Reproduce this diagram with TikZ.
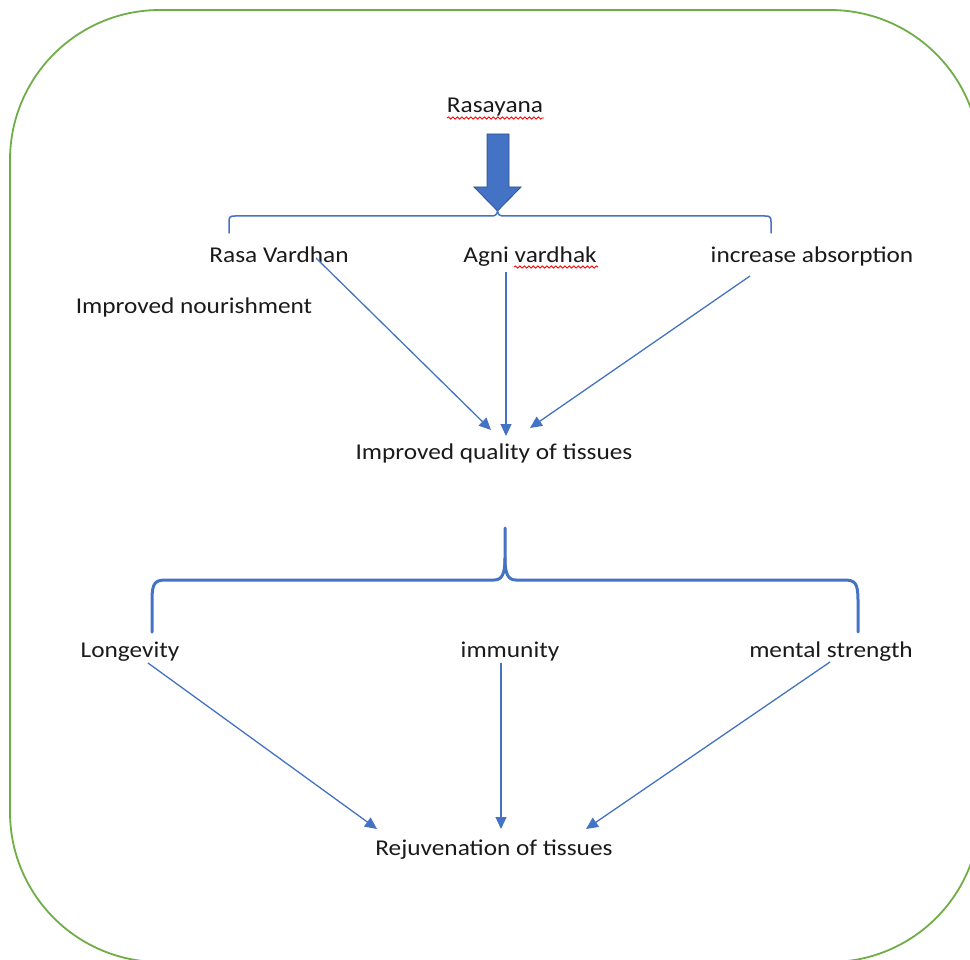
\documentclass[tikz,border=0pt]{standalone}
\usepackage{fontspec}
\setmainfont{Carlito}[FakeStretch=1.12]
\usetikzlibrary{arrows.meta,decorations.pathmorphing}
\definecolor{blu}{HTML}{4472C4}
\definecolor{bludark}{HTML}{2F528F}
\definecolor{grn}{HTML}{70AD47}
\definecolor{txt}{HTML}{1A1A1A}
\begin{document}
\begin{tikzpicture}[x=1pt,y=-1pt,
  lbl/.style={font=\fontsize{22.6}{27}\selectfont, text=txt, inner sep=0pt, anchor=base},
  conn/.style={blu, line width=1.3pt, -{Triangle[length=12pt,width=11pt]}},
  squig/.style={red, line width=0.8pt, decorate, decoration={snake, amplitude=1.1pt, segment length=4.5pt}},
  bracketline/.style={blu, line width=1.5pt, line cap=round},
  braceline/.style={blu, line width=3pt, line cap=round}]
\useasboundingbox (0,0) rectangle (970,960);
\begin{scope}
  \clip (0,0) rectangle (970,960);
  \draw[grn, line width=1.8pt, rounded corners=150pt] (10,10) rectangle (980,962);
\end{scope}

% labels
\node[lbl] (ras) at (495,113) {Rasayana};
\node[lbl] (rv) at (279,263) {Rasa Vardhan};
\node[lbl] (agni) at (530,263) {Agni vardhak};
\node[lbl] (abs) at (812,263) {increase absorption};
\node[lbl] (nour) at (194,313) {Improved nourishment};
\node[lbl] (qual) at (494,459) {Improved quality of tissues};
\node[lbl] (long) at (130,657) {Longevity};
\node[lbl] (imm) at (510,657) {immunity};
\node[lbl] (ment) at (831,657) {mental strength};
\node[lbl] (rej) at (494,855) {Rejuvenation of tissues};

% spell-check squiggles
\draw[squig] (447,118) -- (544,118);
\draw[squig] (514,267) -- (598,267);

% block arrow
\filldraw[fill=blu, draw=bludark, line width=0.8pt]
  (487,134) -- (509,134) -- (509,187) -- (521,187) -- (497.5,211) -- (474,187) -- (487,187) -- cycle;

% top bracket
\draw[bracketline] (229,233) -- (229,222) .. controls (229,217) and (230,216) .. (235,216)
  -- (491,216) .. controls (495,216) and (497,215) .. (497.5,211)
  .. controls (498,215) and (500,216) .. (504,216)
  -- (765,216) .. controls (770,216) and (771,217) .. (771,222) -- (771,233);

% bottom brace
\draw[braceline] (152,632) -- (152,600) .. controls (152,583) and (155,580) .. (166,580)
  -- (494,580) .. controls (502,580) and (505,574) .. (505,558) -- (505,528);
\draw[braceline] (858,632) -- (858,600) .. controls (858,583) and (855,580) .. (844,580)
  -- (516,580) .. controls (508,580) and (505,574) .. (505,558);

% connector end points
\coordinate (rvS) at (316,258);
\coordinate (agniS) at (506,272);
\coordinate (absS) at (750,276);
\coordinate (qualL) at (491,430);
\coordinate (qualM) at (506,436);
\coordinate (qualR) at (530,428);
\coordinate (longS) at (148,663);
\coordinate (immS) at (501,663);
\coordinate (mentS) at (830,662);
\coordinate (rejL) at (377,829);
\coordinate (rejM) at (501,829);
\coordinate (rejR) at (586,829);

\draw[conn] (rvS) -- (qualL);
\draw[conn] (agniS) -- (qualM);
\draw[conn] (absS) -- (qualR);
\draw[conn] (longS) -- (rejL);
\draw[conn] (immS) -- (rejM);
\draw[conn] (mentS) -- (rejR);
\end{tikzpicture}
\end{document}
